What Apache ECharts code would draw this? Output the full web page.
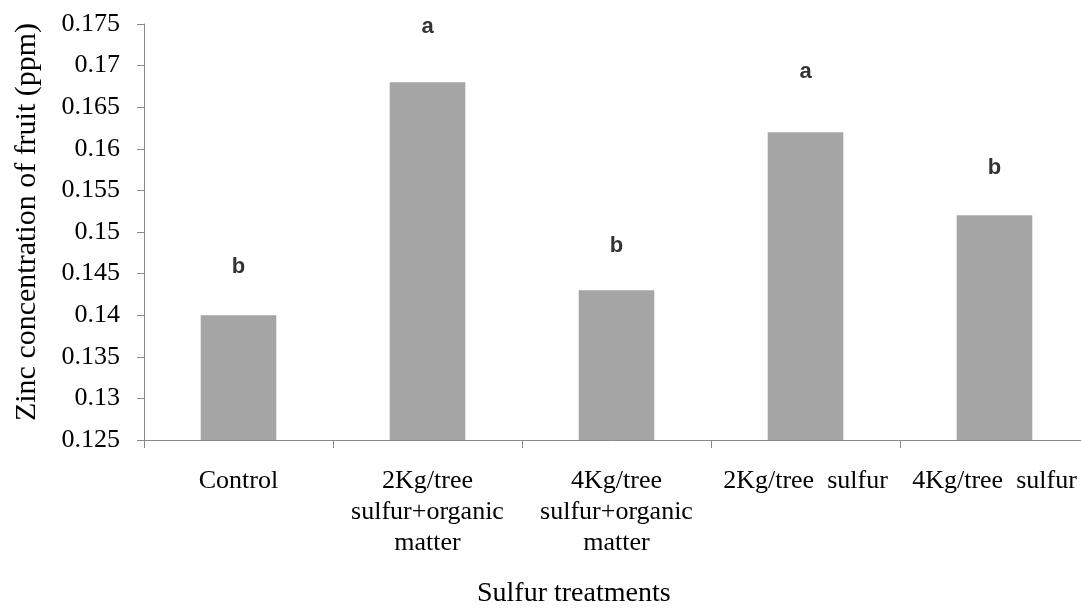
<!DOCTYPE html>
<html>
<head>
<meta charset="utf-8">
<script src="https://cdn.jsdelivr.net/npm/echarts@6/dist/echarts.min.js"></script>
<style>
html,body{margin:0;padding:0;background:#fff;}
#chart{width:1081px;height:608px;}
</style>
</head>
<body>
<div id="chart"></div>
<script>
const categories = [
  "Control",
  "2Kg/tree\nsulfur+organic\nmatter",
  "4Kg/tree\nsulfur+organic\nmatter",
  "2Kg/tree  sulfur",
  "4Kg/tree  sulfur"
];
const zincValues = [0.140, 0.168, 0.143, 0.162, 0.152];
const letters = ["b", "a", "b", "a", "b"];
const letterLevels = [0.1458, 0.1746, 0.1483, 0.1692, 0.1577];
const yMin = 0.125, yMax = 0.175, yStep = 0.005;
const yTitle = "Zinc concentration of fruit (ppm)";
const xTitle = "Sulfur treatments";

const serif = "'Liberation Serif', 'Times New Roman', serif";
const chart = echarts.init(document.getElementById('chart'), null, {renderer: 'canvas'});
chart.setOption({
  backgroundColor: '#ffffff',
  animation: false,
  grid: {left: 144, top: 24, right: -8, bottom: 168, containLabel: false, outerBoundsMode: 'none'},
  xAxis: {
    type: 'category',
    data: categories,
    axisLine: {lineStyle: {color: '#8a8a8a', width: 1}},
    axisTick: {show: true, length: 8, lineStyle: {color: '#8a8a8a'}},
    axisLabel: {interval: 0, margin: 26, fontFamily: serif, fontSize: 26, lineHeight: 31, color: '#000'},
    splitLine: {show: false}
  },
  yAxis: {
    type: 'value',
    min: yMin, max: yMax, interval: yStep,
    axisLine: {show: true, lineStyle: {color: '#8a8a8a', width: 1}},
    axisTick: {show: true, length: 7, lineStyle: {color: '#8a8a8a'}},
    axisLabel: {margin: 24, fontFamily: serif, fontSize: 26, color: '#000'},
    splitLine: {show: false}
  },
  graphic: [{
    type: 'text',
    left: 477, top: 580,
    style: {text: xTitle, fontFamily: serif, fontSize: 28, fill: '#000'}
  }, {
    type: 'text',
    x: 27, y: 222,
    rotation: Math.PI / 2,
    style: {text: yTitle, fontFamily: serif, fontSize: 30, fill: '#000', align: 'center', verticalAlign: 'middle'}
  }],
  series: [{
    type: 'bar',
    data: zincValues,
    barWidth: '40%',
    itemStyle: {color: '#a5a5a5'},
    silent: true
  }, {
    type: 'scatter',
    data: letterLevels.map((v, i) => ({value: v, name: letters[i]})),
    symbolSize: 0,
    silent: true,
    label: {
      show: true, position: 'inside',
      formatter: p => letters[p.dataIndex],
      fontFamily: "'Liberation Sans', Arial, sans-serif",
      fontWeight: 'bold', fontSize: 22, color: '#000'
    }
  }]
});
</script>
</body>
</html>
